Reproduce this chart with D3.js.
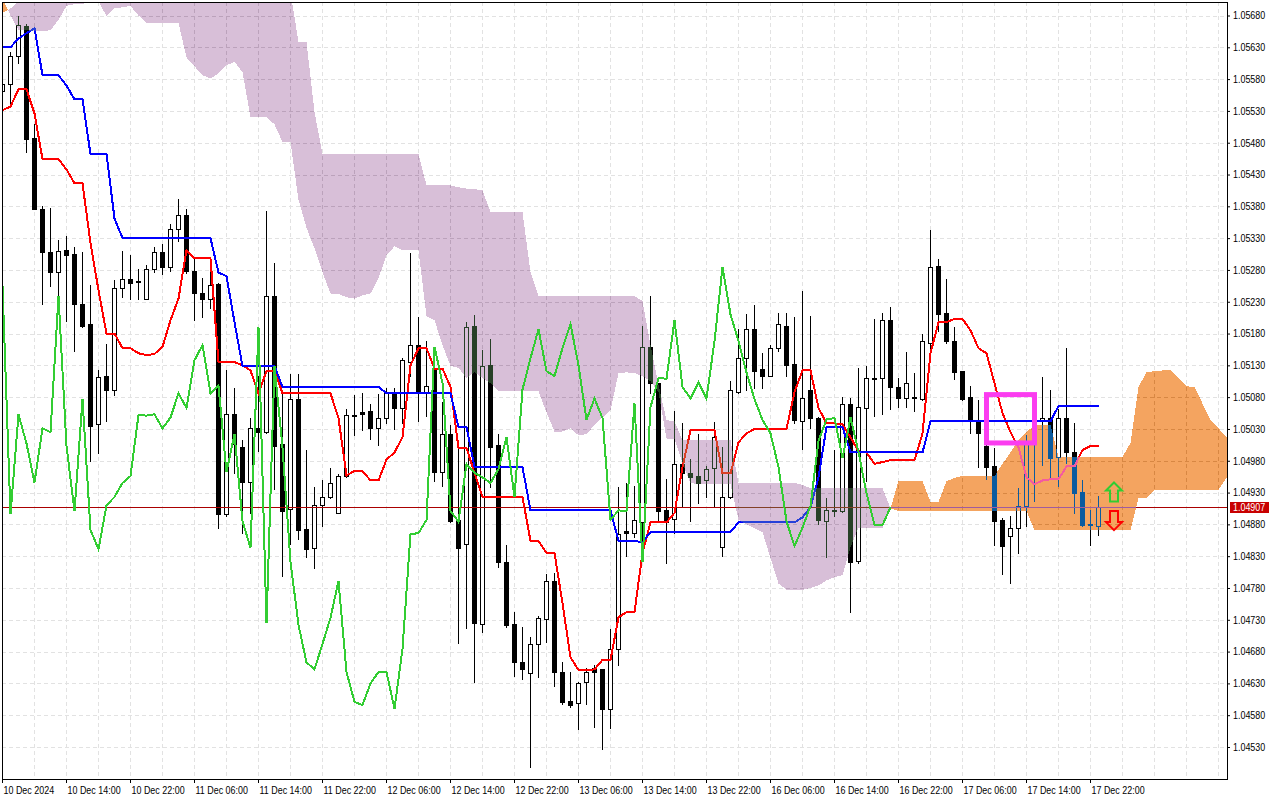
<!DOCTYPE html>
<html>
<head>
<meta charset="utf-8">
<script src="https://cdn.jsdelivr.net/npm/d3@7"></script>
<style>
html, body { margin: 0; padding: 0; background: #fff; overflow: hidden; }
svg { display: block; }
text { font-family: "Liberation Sans", Arial, sans-serif; font-size: 10.5px; fill: #000; }
</style>
</head>
<body>
<script>
const priceTicks = [1.0568, 1.0563, 1.0558, 1.0553, 1.0548, 1.0543, 1.0538, 1.0533, 1.0528, 1.0523, 1.0518, 1.0513,
    1.0508, 1.0503, 1.0498, 1.0493, 1.0488, 1.0483, 1.0478, 1.0473, 1.0468, 1.0463, 1.0458, 1.0453];
const timeLabels = ["10 Dec 2024", "10 Dec 14:00", "10 Dec 22:00", "11 Dec 06:00", "11 Dec 14:00", "11 Dec 22:00",
    "12 Dec 06:00", "12 Dec 14:00", "12 Dec 22:00", "13 Dec 06:00", "13 Dec 14:00", "13 Dec 22:00",
    "16 Dec 06:00", "16 Dec 14:00", "16 Dec 22:00", "17 Dec 06:00", "17 Dec 14:00", "17 Dec 22:00"];
const lastPrice = 1.04907;

const opens = [
    1.05561,1.05573,1.05617,1.05664,1.05487,1.05376,1.05308,1.05276,1.05311,1.05305,
    1.05227,1.05195,1.05038,1.05114,1.05092,1.05251,1.05265,1.05262,1.05235,1.05281,
    1.05308,1.05284,1.05344,1.05366,1.05279,1.05243,1.05235,1.05258,1.04896,1.05053,
    1.05001,1.04946,1.05031,1.05026,1.05239,1.05006,1.04904,1.05077,1.04872,1.04843,
    1.04910,1.04923,1.04898,1.04956,1.05052,1.05056,1.05059,1.05031,1.05048,1.05086,
    1.05063,1.05135,1.05162,1.05086,1.05126,1.04962,1.05022,1.04887,1.04849,1.05192,
    1.04723,1.05130,1.05004,1.04821,1.04723,1.04663,1.04646,1.04692,1.04731,1.04791,
    1.04648,1.04602,1.04599,1.04632,1.04654,1.04652,1.04590,1.04684,1.04869,1.04867,
    1.04884,1.05159,1.05102,1.04902,1.04888,1.04975,1.04961,1.04956,1.04949,1.04968,
    1.04844,1.04923,1.05088,1.05141,1.05187,1.05124,1.05113,1.05157,1.05192,1.05132,
    1.05042,1.05092,1.05048,1.04885,1.04902,1.04901,1.05070,1.04822,1.05063,1.05110,
    1.05110,1.05201,1.05096,1.05078,1.05081,1.05077,1.05165,1.05286,1.05212,1.05169,
    1.05121,1.05080,1.05042,1.05003,1.04971,1.04887,1.04861,1.04875,1.04909,1.05011,
    1.05042,1.05047,1.04986,1.05048,1.04994,1.04931,1.04881,1.04877];
const highs = [
    1.05572,1.05622,1.05679,1.05666,1.05510,1.05381,1.05377,1.05327,1.05334,1.05316,
    1.05308,1.05256,1.05122,1.05164,1.05264,1.05310,1.05303,1.05282,1.05287,1.05316,
    1.05321,1.05353,1.05391,1.05376,1.05300,1.05267,1.05276,1.05259,1.05122,1.05094,
    1.05012,1.05048,1.05114,1.05372,1.05291,1.05091,1.05116,1.05116,1.04997,1.04939,
    1.04949,1.04968,1.04959,1.05061,1.05083,1.05086,1.05070,1.05085,1.05094,1.05094,
    1.05141,1.05306,1.05206,1.05169,1.05133,1.05072,1.05036,1.05001,1.05198,1.05209,
    1.05154,1.05171,1.05022,1.04847,1.04743,1.04719,1.04703,1.04736,1.04802,1.04803,
    1.04663,1.04648,1.04632,1.04654,1.04659,1.04653,1.04715,1.04939,1.04945,1.04941,
    1.05192,1.05239,1.05102,1.04951,1.05058,1.05039,1.04982,1.05022,1.04971,1.05041,
    1.05001,1.05106,1.05187,1.05210,1.05225,1.05149,1.05162,1.05212,1.05212,1.05206,
    1.05247,1.05207,1.05049,1.04921,1.04997,1.05080,1.05078,1.05126,1.05129,1.05203,
    1.05212,1.05221,1.05110,1.05151,1.05118,1.05180,1.05342,1.05297,1.05265,1.05190,
    1.05121,1.05098,1.05075,1.05064,1.05000,1.04890,1.04893,1.04937,1.05020,1.05083,
    1.05111,1.05091,1.05061,1.05157,1.05039,1.04949,1.04902,1.04924];
const lows = [
    1.05519,1.05539,1.05605,1.05465,1.05376,1.05227,1.05255,1.05237,1.05199,1.05152,
    1.05190,1.04979,1.04992,1.05042,1.05083,1.05237,1.05235,1.05234,1.05235,1.05276,
    1.05273,1.05278,1.05325,1.05275,1.05201,1.05206,1.05220,1.04875,1.04893,1.04961,
    1.04866,1.04898,1.04995,1.05023,1.04935,1.04799,1.04849,1.04857,1.04829,1.04811,
    1.04877,1.04921,1.04898,1.04954,1.05020,1.05028,1.05014,1.05004,1.05039,1.05030,
    1.05039,1.05114,1.05042,1.05050,1.04948,1.04940,1.04883,1.04693,1.04717,1.04632,
    1.04711,1.04939,1.04813,1.04719,1.04641,1.04637,1.04498,1.04640,1.04695,1.04626,
    1.04597,1.04593,1.04558,1.04597,1.04561,1.04527,1.04560,1.04659,1.04830,1.04860,
    1.04855,1.05086,1.04884,1.04819,1.04866,1.04907,1.04885,1.04913,1.04923,1.04907,
    1.04831,1.04921,1.05086,1.05091,1.05094,1.05094,1.05113,1.05152,1.05113,1.05039,
    1.04998,1.05031,1.04880,1.04829,1.04893,1.04900,1.04742,1.04820,1.04948,1.05050,
    1.05053,1.05061,1.05064,1.05064,1.05059,1.05075,1.05151,1.05184,1.05165,1.05108,
    1.05075,1.05023,1.04970,1.04951,1.04847,1.04802,1.04788,1.04835,1.04877,1.04916,
    1.04973,1.04951,1.04941,1.04976,1.04898,1.04877,1.04847,1.04863];
const closes = [
    1.05572,1.05617,1.05665,1.05486,1.05376,1.05308,1.05276,1.05310,1.05303,1.05227,
    1.05192,1.05035,1.05111,1.05092,1.05251,1.05265,1.05259,1.05261,1.05281,1.05308,
    1.05284,1.05344,1.05366,1.05278,1.05243,1.05235,1.05256,1.04896,1.05053,1.05007,
    1.04946,1.05031,1.05025,1.05239,1.05003,1.04901,1.05077,1.04871,1.04841,1.04910,
    1.04923,1.04945,1.04956,1.05052,1.05051,1.05053,1.05031,1.05048,1.05086,1.05063,
    1.05138,1.05162,1.05086,1.05098,1.04962,1.05022,1.04885,1.04843,1.05190,1.04725,
    1.05129,1.05001,1.04821,1.04722,1.04663,1.04652,1.04692,1.04733,1.04791,1.04648,
    1.04601,1.04596,1.04630,1.04648,1.04648,1.04590,1.04684,1.04865,1.04866,1.04887,
    1.05159,1.05102,1.04901,1.04884,1.04975,1.04961,1.04954,1.04945,1.04967,1.05017,
    1.04923,1.05092,1.05141,1.05187,1.05121,1.05113,1.05157,1.05195,1.05130,1.05044,
    1.05078,1.05047,1.04887,1.04902,1.04901,1.05070,1.04821,1.05064,1.05110,1.05109,
    1.05201,1.05096,1.05078,1.05103,1.05078,1.05168,1.05284,1.05210,1.05168,1.05119,
    1.05077,1.05044,1.05023,1.04970,1.04885,1.04846,1.04875,1.04909,1.05011,1.05045,
    1.05047,1.04984,1.05048,1.04994,1.04929,1.04879,1.04879,1.04907];

const tenkan = [
    1.05531,1.05537,1.05564,1.05564,1.05526,1.05454,1.05454,1.05454,1.05438,1.05416,
    1.05416,1.05322,1.05248,1.05180,1.05180,1.05157,1.05157,1.05149,1.05146,1.05148,
    1.05159,1.05201,1.05235,1.05311,1.05298,1.05298,1.05298,1.05135,1.05135,1.05135,
    1.05130,1.05122,1.05086,1.05121,1.05122,1.05086,1.05086,1.05086,1.05086,1.05086,
    1.05086,1.05086,1.05047,1.04957,1.04964,1.04964,1.04949,1.04949,1.04982,1.04993,
    1.05017,1.05130,1.05157,1.05157,1.05125,1.05125,1.05096,1.05000,1.05000,1.04961,
    1.04923,1.04923,1.04923,1.04923,1.04923,1.04923,1.04854,1.04854,1.04835,1.04835,
    1.04756,1.04671,1.04651,1.04651,1.04652,1.04667,1.04667,1.04734,1.04742,1.04742,
    1.04835,1.04883,1.04883,1.04883,1.04898,1.04970,1.05028,1.05028,1.05028,1.05028,
    1.04960,1.04960,1.05009,1.05023,1.05030,1.05030,1.05030,1.05030,1.05030,1.05088,
    1.05122,1.05122,1.05063,1.05039,1.05039,1.05037,1.05017,1.04995,1.04993,1.04975,
    1.04978,1.04981,1.04981,1.04981,1.04981,1.05023,1.05149,1.05198,1.05198,1.05203,
    1.05203,1.05185,1.05157,1.05149,1.05102,1.05055,1.05025,1.05001,1.04954,1.04943,
    1.04949,1.04951,1.04951,1.04971,1.04971,1.04997,1.05003,1.05003];
const kijun = [
    1.05630,1.05630,1.05644,1.05652,1.05660,1.05586,1.05586,1.05586,1.05570,1.05548,
    1.05548,1.05462,1.05462,1.05462,1.05361,1.05330,1.05330,1.05330,1.05330,1.05330,
    1.05330,1.05330,1.05330,1.05330,1.05330,1.05330,1.05330,1.05276,1.05270,1.05198,
    1.05129,1.05129,1.05129,1.05129,1.05129,1.05096,1.05096,1.05096,1.05096,1.05096,
    1.05096,1.05096,1.05096,1.05096,1.05096,1.05096,1.05096,1.05096,1.05086,1.05086,
    1.05086,1.05086,1.05086,1.05086,1.05086,1.05086,1.05086,1.05033,1.05033,1.04970,
    1.04970,1.04970,1.04970,1.04970,1.04970,1.04970,1.04902,1.04902,1.04902,1.04902,
    1.04902,1.04902,1.04902,1.04902,1.04902,1.04902,1.04902,1.04854,1.04854,1.04854,
    1.04852,1.04868,1.04868,1.04868,1.04868,1.04868,1.04868,1.04868,1.04868,1.04868,
    1.04868,1.04868,1.04883,1.04883,1.04883,1.04883,1.04883,1.04883,1.04883,1.04883,
    1.04891,1.04907,1.04954,1.05033,1.05033,1.05033,1.04993,1.04993,1.04993,1.04993,
    1.04993,1.04993,1.04993,1.04993,1.04993,1.04993,1.05042,1.05042,1.05042,1.05042,
    1.05042,1.05042,1.05042,1.05042,1.05042,1.05042,1.05042,1.05042,1.05042,1.05042,
    1.05042,1.05042,1.05066,1.05066,1.05066,1.05066,1.05066,1.05066];
const chikou = [
    1.05256,1.04896,1.05053,1.05007,
    1.04946,1.05031,1.05025,1.05239,1.05003,1.04901,1.05077,1.04871,1.04841,1.04910,
    1.04923,1.04945,1.04956,1.05052,1.05051,1.05053,1.05031,1.05048,1.05086,1.05063,
    1.05138,1.05162,1.05086,1.05098,1.04962,1.05022,1.04885,1.04843,1.05190,1.04725,
    1.05129,1.05001,1.04821,1.04722,1.04663,1.04652,1.04692,1.04733,1.04791,1.04648,
    1.04601,1.04596,1.04630,1.04648,1.04648,1.04590,1.04684,1.04865,1.04866,1.04887,
    1.05159,1.05102,1.04901,1.04884,1.04975,1.04961,1.04954,1.04945,1.04967,1.05017,
    1.04923,1.05092,1.05141,1.05187,1.05121,1.05113,1.05157,1.05195,1.05130,1.05044,
    1.05078,1.05047,1.04887,1.04902,1.04901,1.05070,1.04821,1.05064,1.05110,1.05109,
    1.05201,1.05096,1.05078,1.05103,1.05078,1.05168,1.05284,1.05210,1.05168,1.05119,
    1.05077,1.05044,1.05023,1.04970,1.04885,1.04846,1.04875,1.04909,1.05011,1.05045,
    1.05047,1.04984,1.05048,1.04994,1.04929,1.04879,1.04879,1.04907];
const spanA = [
    1.05707,1.05680,1.05657,1.05657,1.05655,1.05655,1.05657,1.05673,1.05695,1.05698,
    1.05698,1.05702,1.05702,1.05679,1.05691,1.05693,1.05695,1.05680,1.05668,1.05668,
    1.05668,1.05668,1.05668,1.05614,1.05600,1.05586,1.05581,1.05589,1.05602,1.05607,
    1.05591,1.05520,1.05520,1.05520,1.05509,1.05481,1.05481,1.05390,1.05346,1.05314,
    1.05276,1.05243,1.05242,1.05237,1.05235,1.05240,1.05243,1.05267,1.05303,1.05317,
    1.05311,1.05311,1.05311,1.05207,1.05201,1.05162,1.05129,1.05126,1.05110,1.05119,
    1.05110,1.05102,1.05089,1.05089,1.05089,1.05089,1.05089,1.05089,1.05056,1.05026,
    1.05026,1.05031,1.05020,1.05022,1.05036,1.05048,1.05059,1.05118,1.05119,1.05118,
    1.05113,1.05105,1.05088,1.05015,1.05014,1.04976,1.04945,1.04943,1.04943,1.04943,
    1.04943,1.04943,1.04887,1.04880,1.04874,1.04868,1.04827,1.04787,1.04777,1.04777,
    1.04777,1.04780,1.04784,1.04792,1.04797,1.04800,1.04844,1.04875,1.04875,1.04875,
    1.04875,1.04905,1.04948,1.04948,1.04948,1.04948,1.04915,1.04915,1.04948,1.04953,
    1.04956,1.04956,1.04956,1.04956,1.04956,1.04975,1.04993,1.05012,1.05025,1.05036,
    1.05036,1.05036,1.04986,1.04986,1.04986,1.04986,1.04986,1.04986,1.04986,1.04986,
    1.04986,1.05008,1.05096,1.05119,1.05121,1.05122,1.05122,1.05110,1.05097,1.05096,
    1.05070,1.05044,1.05031,1.05017];
const spanB = [
    1.05684,1.05691,1.05702,1.05735,1.05735,1.05735,1.05735,1.05735,1.05735,1.05735,
    1.05735,1.05735,1.05735,1.05735,1.05735,1.05735,1.05735,1.05735,1.05735,1.05735,
    1.05735,1.05735,1.05735,1.05735,1.05735,1.05735,1.05735,1.05735,1.05735,1.05735,
    1.05735,1.05735,1.05735,1.05735,1.05735,1.05735,1.05717,1.05638,1.05638,1.05528,
    1.05462,1.05462,1.05462,1.05462,1.05462,1.05462,1.05462,1.05462,1.05462,1.05462,
    1.05462,1.05462,1.05462,1.05413,1.05413,1.05413,1.05413,1.05410,1.05408,1.05407,
    1.05405,1.05371,1.05371,1.05371,1.05371,1.05371,1.05276,1.05239,1.05239,1.05239,
    1.05239,1.05239,1.05239,1.05239,1.05239,1.05239,1.05239,1.05239,1.05239,1.05239,
    1.05231,1.05162,1.05099,1.05044,1.05042,1.05012,1.05012,1.05012,1.05012,1.05012,
    1.05012,1.05012,1.04945,1.04945,1.04945,1.04945,1.04945,1.04945,1.04945,1.04945,
    1.04942,1.04937,1.04937,1.04937,1.04937,1.04937,1.04937,1.04937,1.04937,1.04937,
    1.04937,1.04905,1.04901,1.04901,1.04901,1.04901,1.04901,1.04901,1.04901,1.04901,
    1.04901,1.04901,1.04901,1.04901,1.04901,1.04901,1.04901,1.04901,1.04901,1.04871,
    1.04871,1.04871,1.04871,1.04871,1.04871,1.04871,1.04871,1.04871,1.04871,1.04871,
    1.04871,1.04871,1.04921,1.04921,1.04934,1.04934,1.04934,1.04934,1.04934,1.04934,
    1.04934,1.04934,1.04934,1.04953];

// highlighted box and signal arrows, in bars and prices
const boxBars = [123, 129];
const boxPrices = [1.05084, 1.05008];
const arrowBar = 139;
const arrowUpPrice = 1.04916;
const arrowDownPrice = 1.04871;

const width = 1280;
const height = 800;
const plotLeft = 2;
const plotRight = 1227;
const plotTop = 2;
const plotBottom = 779;

// the cloud is painted like the terminal does: inverted colour, blended by difference
const thistleInverse = "rgb(39,64,39)";
const sandyInverse = "rgb(11,91,159)";

const xScale = d3.scaleLinear().domain([0, 1]).range([2, 10]);
const yScale = d3.scaleLinear().domain([1.0568, 1.0453]).range([15.5, 747]);
const yPix = p => Math.round(yScale(p));

const svg = d3.select("body").append("svg").attr("width", width).attr("height", height);

const main = () => {
    svg.append("rect").attr("width", width).attr("height", height).attr("fill", "#fff");
    svg.append("clipPath").attr("id", "plotClip").append("rect")
        .attr("x", plotLeft + 1).attr("y", plotTop + 1)
        .attr("width", plotRight - plotLeft - 1).attr("height", plotBottom - plotTop - 1);

    const plot = svg.append("g").attr("clip-path", "url(#plotClip)");
    plot.append("rect").attr("x", 0).attr("y", 0).attr("width", width).attr("height", height).attr("fill", "#fff");

    drawGrid(plot);
    drawCandles(plot);

    // last price line
    plot.append("line")
        .attr("x1", plotLeft).attr("x2", plotRight)
        .attr("y1", yPix(lastPrice) + 0.5).attr("y2", yPix(lastPrice) + 0.5)
        .attr("stroke", "#aa0000").attr("stroke-width", 1);

    drawSeries(plot, tenkan, "#ff0000");
    drawSeries(plot, kijun, "#0000ff");
    drawCloud(plot);
    drawSeries(plot, chikou, "#32cd32");

    // highlight box
    plot.append("rect")
        .attr("x", xScale(boxBars[0]) + 0.5).attr("y", yScale(boxPrices[0]))
        .attr("width", xScale(boxBars[1]) - xScale(boxBars[0]))
        .attr("height", yScale(boxPrices[1]) - yScale(boxPrices[0]))
        .attr("fill", "none").attr("stroke", "#fb3cf0").attr("stroke-width", 5);

    drawArrow(plot, arrowUpPrice, true, "#32cd32");
    drawArrow(plot, arrowDownPrice, false, "#ff0000");

    drawFrame();
    drawAxes();
}

const drawGrid = (g) => {
    const grid = g.append("g").attr("stroke", "#e2e2e2").attr("stroke-width", 1).attr("stroke-dasharray", "4,3");
    priceTicks.forEach(p => {
        grid.append("line")
            .attr("x1", plotLeft).attr("x2", plotRight)
            .attr("y1", yPix(p) + 0.5).attr("y2", yPix(p) + 0.5);
    });
    // one vertical line every 4 bars
    d3.range(4, 154, 4).forEach(i => {
        grid.append("line")
            .attr("x1", xScale(i) + 0.5).attr("x2", xScale(i) + 0.5)
            .attr("y1", plotTop).attr("y2", plotBottom);
    });
}

const drawCandles = (g) => {
    const candles = g.append("g").attr("shape-rendering", "crispEdges");
    opens.forEach((open, i) => {
        const x = xScale(i);
        const top = yPix(Math.max(open, closes[i]));
        const bottom = yPix(Math.min(open, closes[i]));
        const isUp = closes[i] >= open;

        candles.append("rect")
            .attr("x", x).attr("width", 1)
            .attr("y", yPix(highs[i])).attr("height", yPix(lows[i]) - yPix(highs[i]) + 1)
            .attr("fill", "#000");

        if (isUp && bottom - top >= 2) {
            candles.append("rect")
                .attr("x", x - 1.5).attr("width", 4)
                .attr("y", top + 0.5).attr("height", bottom - top)
                .attr("fill", "#fff").attr("stroke", "#000").attr("stroke-width", 1);
        } else {
            candles.append("rect")
                .attr("x", x - 2).attr("width", 5)
                .attr("y", top).attr("height", bottom - top + 1)
                .attr("fill", "#000");
        }
    });
}

const drawSeries = (g, values, color) => {
    const line = d3.line().x((d, i) => xScale(i) + 0.5).y(d => yScale(d));
    g.append("path")
        .attr("d", line(values))
        .attr("fill", "none")
        .attr("stroke", color)
        .attr("stroke-width", 2)
        .attr("shape-rendering", "crispEdges");
}

// split the band into runs, each with the span that is on top
const cloudRuns = () => {
    let runs = [];
    let run = null;
    spanA.forEach((a, i) => {
        const diff = a - spanB[i];
        const aOnTop = diff > 0;
        if (!run) {
            run = { aOnTop: aOnTop, points: [] };
            runs.push(run);
        } else if (run.aOnTop !== aOnTop) {
            const prevDiff = spanA[i - 1] - spanB[i - 1];
            const t = prevDiff / (prevDiff - diff);
            const cross = {
                i: i - 1 + t,
                a: spanA[i - 1] + (a - spanA[i - 1]) * t,
                b: spanB[i - 1] + (spanB[i] - spanB[i - 1]) * t
            };
            run.points.push(cross);
            run = { aOnTop: aOnTop, points: [cross] };
            runs.push(run);
        }
        run.points.push({ i: i, a: a, b: spanB[i] });
    });
    return runs;
}

const drawCloud = (g) => {
    const area = d3.area()
        .x(d => xScale(d.i) + 0.5)
        .y0(d => yScale(d.a))
        .y1(d => yScale(d.b));
    cloudRuns().forEach(run => {
        g.append("path")
            .attr("d", area(run.points))
            .attr("fill", run.aOnTop ? sandyInverse : thistleInverse)
            .attr("shape-rendering", "crispEdges")
            .style("mix-blend-mode", "difference");
    });
}

// the price is the flat end of the shaft, the head points away from it
const drawArrow = (g, price, pointsUp, color) => {
    const x = xScale(arrowBar);
    const tipY = yScale(price) + (pointsUp ? -19 : 0);
    const shape = [[0, 0], [8, 8], [4, 8], [4, 19], [-4, 19], [-4, 8], [-8, 8]];
    const line = d3.line()
        .x(d => x + d[0])
        .y(d => tipY + (pointsUp ? d[1] : -d[1]))
        .curve(d3.curveLinearClosed);
    g.append("path")
        .attr("d", line(shape))
        .attr("fill", "none")
        .attr("stroke", color)
        .attr("stroke-width", 2);
}

const drawFrame = () => {
    svg.append("rect")
        .attr("x", plotLeft + 0.5).attr("y", plotTop + 0.5)
        .attr("width", plotRight - plotLeft).attr("height", plotBottom - plotTop)
        .attr("fill", "none").attr("stroke", "#000").attr("stroke-width", 1);
}

// squeeze the labels so they take the width of the terminal's narrow font
const narrowLabels = (selection) => {
    selection.each(function () {
        d3.select(this)
            .attr("textLength", this.getComputedTextLength() * 0.85)
            .attr("lengthAdjust", "spacingAndGlyphs");
    });
}

const drawAxes = () => {
    const yAxis = d3.axisRight(yScale)
        .tickValues(priceTicks)
        .tickFormat(d3.format(".5f"))
        .tickSize(3)
        .tickPadding(3);
    const yGroup = svg.append("g").attr("transform", "translate(" + plotRight + ",0)").call(yAxis);
    yGroup.select(".domain").remove();
    yGroup.attr("font-family", null).attr("font-size", null);
    yGroup.selectAll("text").call(narrowLabels);

    const tickBars = timeLabels.map((d, i) => i * 8);
    const xAxis = d3.axisBottom(xScale)
        .tickValues(tickBars)
        .tickFormat((d, i) => timeLabels[i])
        .tickSize(4)
        .tickPadding(4);
    const xGroup = svg.append("g").attr("transform", "translate(0," + plotBottom + ")").call(xAxis);
    xGroup.select(".domain").remove();
    xGroup.attr("font-family", null).attr("font-size", null);
    xGroup.selectAll("text").attr("text-anchor", "start").attr("x", 1).call(narrowLabels);

    // last price tag
    const tagY = yPix(lastPrice);
    svg.append("rect")
        .attr("x", 1230).attr("y", tagY - 5)
        .attr("width", 39).attr("height", 11)
        .attr("fill", "#c80000");
    svg.append("text")
        .attr("x", 1233).attr("y", tagY + 4)
        .style("fill", "#fff")
        .text(lastPrice.toFixed(5))
        .call(narrowLabels);
}

window.addEventListener("load", main);
</script>
</body>
</html>
